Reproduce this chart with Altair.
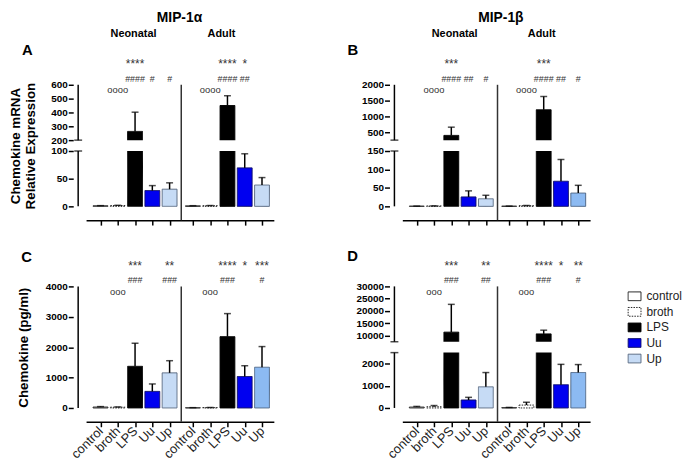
import altair as alt
import pandas as pd

FONT = "Liberation Sans"

# ---------------- data ----------------
groups = ["control", "broth", "LPS", "Uu", "Up"]
neo_pos = [0, 1, 2, 3, 4]
adult_pos = [5.35, 6.35, 7.35, 8.35, 9.35]
divider_pos = 4.675
x_domain = [-0.55, 9.75]

# Panel A: MIP-1a mRNA (relative expression)
A_neo_mean = [1.0, 1.5, 263, 28.5, 31]
A_neo_top = [1.3, 1.9, 402, 37.5, 42.5]
A_adu_mean = [1.0, 1.2, 450, 69.5, 38.5]
A_adu_top = [1.2, 1.5, 521, 95, 52]
A_domain = [0, 100, 200, 600]
A_ticks = [0, 50, 100, 200, 300, 400, 500, 600]

# Panel B: MIP-1b mRNA
B_neo_mean = [0.5, 1.0, 400, 25.5, 20.5]
B_neo_top = [0.7, 1.3, 660, 42, 30]
B_adu_mean = [0.5, 1.8, 1210, 68, 36]
B_adu_top = [0.7, 2.5, 1630, 127, 57]
B_domain = [0, 150, 250, 2000]
B_ticks = [0, 50, 100, 150, 500, 1000, 1500, 2000]

# Panel C: MIP-1a protein (pg/ml)
C_neo_mean = [30, 25, 1370, 545, 1155]
C_neo_top = [45, 35, 2130, 790, 1555]
C_adu_mean = [8, 12, 2345, 1035, 1340]
C_adu_top = [10, 16, 3105, 1390, 2020]
C_domain = [0, 4000]
C_ticks = [0, 1000, 2000, 3000, 4000]

# Panel D: MIP-1b protein (pg/ml)
D_neo_mean = [40, 55, 11400, 360, 955]
D_neo_top = [70, 110, 22700, 480, 1600]
D_adu_mean = [15, 130, 10700, 1050, 1600]
D_adu_top = [25, 260, 12200, 1970, 1960]
D_domain = [0, 2500, 7500, 30000]
D_ticks = [0, 1000, 2000, 10000, 15000, 20000, 25000, 30000]

# significance marks: (age, group, row, text)
A_ann = [("Neonatal", "LPS", "star", "****"), ("Neonatal", "LPS", "hash", "####"),
         ("Neonatal", "Uu", "hash", "#"), ("Neonatal", "Up", "hash", "#"),
         ("Neonatal", "broth", "circ", "oooo"),
         ("Adult", "LPS", "star", "****"), ("Adult", "Uu", "star", "*"),
         ("Adult", "LPS", "hash", "####"), ("Adult", "Uu", "hash", "##"),
         ("Adult", "broth", "circ", "oooo")]
B_ann = [("Neonatal", "LPS", "star", "***"), ("Neonatal", "LPS", "hash", "####"),
         ("Neonatal", "Uu", "hash", "##"), ("Neonatal", "Up", "hash", "#"),
         ("Neonatal", "broth", "circ", "oooo"),
         ("Adult", "LPS", "star", "***"), ("Adult", "LPS", "hash", "####"),
         ("Adult", "Uu", "hash", "##"), ("Adult", "Up", "hash", "#"),
         ("Adult", "broth", "circ", "oooo")]
C_ann = [("Neonatal", "LPS", "star", "***"), ("Neonatal", "Up", "star", "**"),
         ("Neonatal", "LPS", "hash", "###"), ("Neonatal", "Up", "hash", "###"),
         ("Neonatal", "broth", "circ", "ooo"),
         ("Adult", "LPS", "star", "****"), ("Adult", "Uu", "star", "*"), ("Adult", "Up", "star", "***"),
         ("Adult", "LPS", "hash", "###"), ("Adult", "Up", "hash", "#"),
         ("Adult", "broth", "circ", "ooo")]
D_ann = [("Neonatal", "LPS", "star", "***"), ("Neonatal", "Up", "star", "**"),
         ("Neonatal", "LPS", "hash", "###"), ("Neonatal", "Up", "hash", "##"),
         ("Neonatal", "broth", "circ", "ooo"),
         ("Adult", "LPS", "star", "****"), ("Adult", "Uu", "star", "*"), ("Adult", "Up", "star", "**"),
         ("Adult", "LPS", "hash", "###"), ("Adult", "Up", "hash", "#"),
         ("Adult", "broth", "circ", "ooo")]

# ---------------- styles ----------------
keys = ["control", "broth", "LPS", "Uu", "Up", "Up_adult"]
key_fill = ["#ffffff", "#ffffff", "#000000", "#0000f0", "#c6dbf5", "#8cbaf2"]
key_stroke = ["#222222", "#222222", "#000000", "#10106a", "#5b6b82", "#4d6585"]
key_dash = [[1, 0], [1.5, 1.2], [1, 0], [1, 0], [1, 0], [1, 0]]
adult_up_key = {"A": "Up", "B": "Up_adult", "C": "Up_adult", "D": "Up_adult"}

W, H = 190, 123
XOFF, YOFF = 14, 13
ROW_Y = {"star": -17, "hash": -3, "circ": 8.5}
ROW_FS = {"star": 12, "hash": 9, "circ": 9.5}

legend = alt.Legend(orient="none", legendX=548, legendY=207, title=None,
                    values=groups, symbolType="M-1,-0.68L1,-0.68L1,0.68L-1,0.68Z",
                    symbolSize=169, symbolStrokeWidth=1, labelFont=FONT, labelFontSize=12,
                    labelColor="#222222", labelOffset=5, rowPadding=1.75, padding=0)


def y_range(domain):
    if len(domain) == 4:
        return [H, 67, 56, 0]
    return [H, 0]


def bars_df(key, nm, nt, am, at):
    rows = []
    for age, pos, means, tops in [("Neonatal", neo_pos, nm, nt), ("Adult", adult_pos, am, at)]:
        for g, p, m, t in zip(groups, pos, means, tops):
            k = g
            if g == "Up" and age == "Adult":
                k = adult_up_key[key]
            rows.append(dict(group=g, age=age, pos=p, mean=m, top=t, key=k))
    return pd.DataFrame(rows)


def ann_df(ann):
    rows = []
    for age, g, row, txt in ann:
        pos = (neo_pos if age == "Neonatal" else adult_pos)[groups.index(g)]
        rows.append(dict(pos=pos, row=row, txt=txt))
    return pd.DataFrame(rows)


def text_layer(txt, x, y, size, weight="bold", align="center"):
    return alt.Chart(pd.DataFrame({"t": [txt]})).mark_text(
        font=FONT, fontSize=size, fontWeight=weight, align=align,
        baseline="alphabetic", color="black"
    ).encode(text="t:N", x=alt.value(x), y=alt.value(y))


def panel(key, df, ann, domain, ticks, ytitle, tpad, xlabels, titles):
    xs = alt.Scale(domain=x_domain, nice=False, zero=False)
    ys = alt.Scale(domain=domain, range=y_range(domain), nice=False, zero=False)
    xaxis = alt.Axis(values=neo_pos + adult_pos, labels=xlabels,
                     labelExpr="['control','broth','LPS','Uu','Up'][round(datum.value < 5 ? datum.value : datum.value - 5.35)]",
                     labelAngle=-45, labelAlign="right", labelBaseline="middle",
                     labelFont=FONT, labelFontSize=13, labelColor="#222222",
                     labelPadding=2, labelOverlap=False, labelFlush=False, labelBound=False,
                     offset=XOFF, grid=False, title=None, tickSize=5, tickWidth=1.5,
                     tickColor="black", domainWidth=1.5, domainColor="black")
    yaxis = alt.Axis(values=ticks, format="d", offset=YOFF, domain=False, grid=False,
                     tickSize=5, tickWidth=1.5, tickColor="black",
                     labelFont=FONT, labelFontSize=10, labelFontWeight="bold",
                     labelColor="black", labelPadding=1, labelOverlap=False,
                     labelFlush=False, labelBound=False,
                     title=ytitle, titleFont=FONT, titleFontSize=13.5,
                     titleFontWeight="bold", titleColor="black", titlePadding=tpad,
                     titleLineHeight=16)

    def X(f):
        return alt.X(f, scale=xs, axis=xaxis)

    def Y(f):
        return alt.Y(f, scale=ys, axis=yaxis)

    base = alt.Chart(df)
    bars = base.mark_bar(size=15, strokeWidth=1).encode(
        x=X("pos:Q"),
        y=Y("mean:Q"),
        y2=alt.datum(0),
        fill=alt.Fill("key:N", scale=alt.Scale(domain=keys, range=key_fill), legend=legend),
        stroke=alt.Stroke("key:N", scale=alt.Scale(domain=keys, range=key_stroke), legend=legend),
        strokeDash=alt.StrokeDash("key:N", scale=alt.Scale(domain=keys, range=key_dash), legend=legend),
    )
    whisk = base.mark_rule(strokeWidth=1.5, color="black").encode(
        x=X("pos:Q"), y=Y("mean:Q"), y2="top:Q")
    caps = base.mark_tick(orient="horizontal", size=7, thickness=1.5, color="black").encode(
        x=X("pos:Q"), y=Y("top:Q"))
    layers = [bars, whisk, caps]

    if len(domain) == 4:
        lo, hi = domain[1], domain[2]
        gap = alt.Chart(pd.DataFrame({"x1": [x_domain[0]], "x2": [x_domain[1]],
                                      "lo": [lo], "hi": [hi]})).mark_rect(color="white").encode(
            x=X("x1:Q"), x2="x2:Q", y=Y("lo:Q"), y2="hi:Q")
        layers.append(gap)
        seg = pd.DataFrame({"x": [x_domain[0]] * 2, "lo": [domain[0], domain[2]],
                            "hi": [domain[1], domain[3]]})
        brk = pd.DataFrame({"x": [x_domain[0]] * 2, "y": [domain[1], domain[2]]})
    else:
        seg = pd.DataFrame({"x": [x_domain[0]], "lo": [domain[0]], "hi": [domain[-1]]})
        brk = None

    div = alt.Chart(pd.DataFrame({"x": [divider_pos]})).mark_rule(
        color="#333333", strokeWidth=1.5).encode(
        x=X("x:Q"), y=alt.value(0), y2=alt.value(H + XOFF))
    layers.append(div)
    axis_line = alt.Chart(seg).mark_rule(color="black", strokeWidth=1.5, xOffset=-YOFF).encode(
        x=X("x:Q"), y=Y("lo:Q"), y2="hi:Q")
    layers.append(axis_line)
    if brk is not None:
        layers.append(alt.Chart(brk).mark_tick(orient="horizontal", size=8, thickness=1.5,
                                               color="black", xOffset=-YOFF).encode(
            x=X("x:Q"), y=Y("y:Q")))

    adf = ann_df(ann)
    for row in ["star", "hash", "circ"]:
        sub = adf[adf["row"] == row]
        layers.append(alt.Chart(sub).mark_text(
            font=FONT, fontSize=ROW_FS[row], color="#333333", baseline="alphabetic").encode(
            x=X("pos:Q"), y=alt.value(ROW_Y[row]), text="txt:N"))

    for t in titles:
        layers.append(text_layer(*t))

    return alt.layer(*layers).properties(width=W, height=H)


A = panel("A", bars_df("A", A_neo_mean, A_neo_top, A_adu_mean, A_adu_top), A_ann,
          A_domain, A_ticks, ["Chemokine mRNA", "Relative Expression"], 13, False,
          [("A", -59.5, -30.5, 15), ("MIP-1α", 94.5, -64, 14),
           ("Neonatal", 48, -48, 11), ("Adult", 137, -48, 11)])
B = panel("B", bars_df("B", B_neo_mean, B_neo_top, B_adu_mean, B_adu_top), B_ann,
          B_domain, B_ticks, None, 14, False,
          [("B", -50, -30.5, 15), ("MIP-1β", 99.7, -64, 14),
           ("Neonatal", 53, -48, 11), ("Adult", 141, -48, 11)])
C = panel("C", bars_df("C", C_neo_mean, C_neo_top, C_adu_mean, C_adu_top), C_ann,
          C_domain, C_ticks, "Chemokine (pg/ml)", 15, True,
          [("C", -60.3, -24.7, 15)])
D = panel("D", bars_df("D", D_neo_mean, D_neo_top, D_adu_mean, D_adu_top), D_ann,
          D_domain, D_ticks, None, 14, True,
          [("D", -50.3, -25.7, 15)])

chart = alt.concat(A, B, C, D, columns=2, spacing={"row": 81, "column": 130},
                   bounds="flush").properties(
    padding=0, background="white"
).configure(font=FONT).configure_view(strokeWidth=0, stroke="transparent")

chart.save("out.html", embed_options={"renderer": "svg", "actions": False})
